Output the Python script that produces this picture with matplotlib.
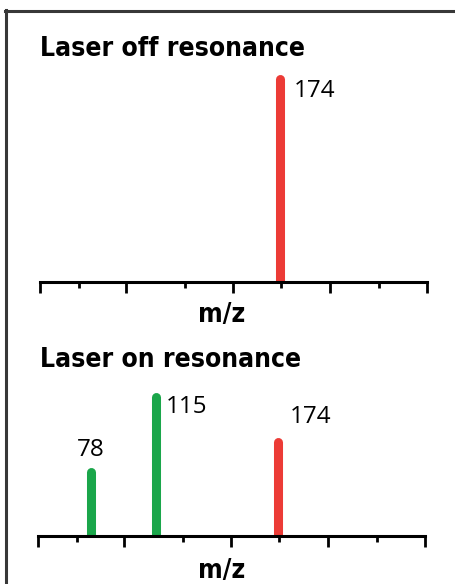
import matplotlib.pyplot as plt
from matplotlib.lines import Line2D

# peak data: m/z label, position along the (schematic) axis, height, colour group
off_labels = ["174"]
off_pos = [62.0]
off_height = [203]
off_kind = ["parent"]

on_labels = ["78", "115", "174"]
on_pos = [13.7, 30.5, 62.0]
on_height = [64, 139, 94]
on_kind = ["fragment", "fragment", "parent"]

major_ticks = [0, 22.3, 49.8, 75.0, 100]
minor_ticks = [10.0, 37.5, 62.4, 87.5]

COLORS = {"parent": "#ec3b36", "fragment": "#1aa64a"}
W, H = 456, 584
TITLE_FONT = dict(family="DejaVu Sans", fontstretch="condensed", fontweight="bold",
                  fontsize=19)
NUM_FONT = ["Open Sans", "DejaVu Sans"]


def fx(px):
    return px / W


def fy(py):
    return 1 - py / H


def spectrum(fig, left, right, base, top, ymax, pos, height, kind, labels, offsets):
    ax = fig.add_axes([fx(left), fy(base), (right - left) / W, (base - top) / H])
    for x, h, k in zip(pos, height, kind):
        ax.plot([x, x], [0, h], color=COLORS[k], lw=6.5, solid_capstyle="round",
                zorder=2)
    for x, h, lab, (dx, dy) in zip(pos, height, labels, offsets):
        ax.annotate(lab, (x, h), xytext=(dx, dy), textcoords="offset pixels",
                    ha="left", va="center", fontsize=17.5, family=NUM_FONT)
    ax.set_xlim(0, 100)
    ax.set_ylim(0, ymax)
    for s in ["top", "left", "right"]:
        ax.spines[s].set_visible(False)
    ax.spines["bottom"].set_linewidth(2.2)
    ax.spines["bottom"].set_zorder(3)
    ax.set_yticks([])
    ax.set_xticks(major_ticks)
    ax.set_xticks(minor_ticks, minor=True)
    ax.tick_params(axis="x", which="major", length=8, width=2.0, direction="out",
                   labelbottom=False)
    ax.tick_params(axis="x", which="minor", length=4, width=2.0, direction="out")
    ax.patch.set_alpha(0)
    return ax


fig = plt.figure(figsize=(W / 100, H / 100), dpi=100)

# frame (top and left edges only)
fig.add_artist(Line2D([fx(5), fx(456)], [fy(10.5), fy(10.5)], color="#383838", lw=2.2))
fig.add_artist(Line2D([fx(6.5), fx(6.5)], [fy(10), fy(584)], color="#383838", lw=2.2))

fig.text(fx(40), fy(56), "Laser off resonance", va="baseline", ha="left", **TITLE_FONT)
fig.text(fx(40), fy(367), "Laser on resonance", va="baseline", ha="left", **TITLE_FONT)
fig.text(fx(222), fy(322), "m/z", va="baseline", ha="center", **TITLE_FONT)
fig.text(fx(222), fy(578), "m/z", va="baseline", ha="center", **TITLE_FONT)

spectrum(fig, 40, 427, 282, 60, 222, off_pos, off_height, off_kind, off_labels,
         [(14, -12)])
spectrum(fig, 38, 425, 536, 380, 156, on_pos, on_height, on_kind, on_labels,
         [(-14, 22), (10, -10), (12, 25)])

fig.savefig("out.png", dpi=100)
